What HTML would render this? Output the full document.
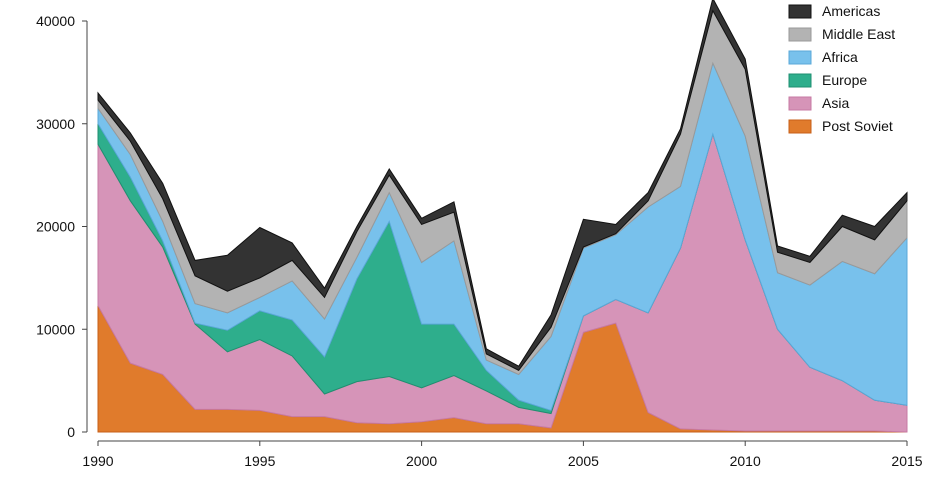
<!DOCTYPE html>
<html><head><meta charset="utf-8"><style>
body{margin:0;background:#fff;}
svg{font-family:"Liberation Sans",sans-serif;}
</style></head><body>
<svg id="chart" width="939" height="495"></svg>
<script>
const years=[1990,1991,1992,1993,1994,1995,1996,1997,1998,1999,2000,2001,2002,2003,2004,2005,2006,2007,2008,2009,2010,2011,2012,2013,2014,2015];
const postSoviet=[12300,6700,5600,2200,2200,2100,1500,1500,900,800,1000,1400,800,800,400,9700,10600,1900,300,200,100,100,100,100,100,0];
const asia=[15700,15800,12400,8300,5600,6900,5900,2200,4000,4600,3300,4100,3200,1600,1400,1600,2300,9700,17600,28800,18600,9900,6200,4900,3000,2600];
const europe=[2000,2300,600,100,2100,2800,3500,3600,10000,15100,6200,5000,2000,700,300,0,0,0,0,0,0,0,0,0,0,0];
const africa=[1500,2200,1900,1900,1700,1300,3800,3700,2100,2800,6000,8100,1000,2500,7200,6600,6300,10300,6000,6900,10100,5500,8000,11600,12300,16300];
const middleEast=[800,1300,2200,2700,2100,1900,2000,2100,2500,1700,3700,2800,600,400,900,100,100,600,5100,5100,6500,2000,2200,3400,3300,3600];
const americas=[700,800,1500,1500,3500,4900,1700,900,500,600,600,1000,500,400,1200,2700,900,800,500,1200,1000,600,600,1100,1300,800];
const yTicks=[0,10000,20000,30000,40000];
const xTicks=[1990,1995,2000,2005,2010,2015];

const NS="http://www.w3.org/2000/svg";
const svg=document.getElementById('chart');
const X=y=>98+(y-1990)*(907-98)/25;
const Y=v=>432-v*(432-21)/40000;
function mk(t,a,p){const e=document.createElementNS(NS,t);for(const k in a)e.setAttribute(k,a[k]);(p||svg).appendChild(e);return e;}

const series=[
 {name:'Post Soviet',vals:postSoviet,fill:'#e07b2c',stroke:'#c75f17',key:'post-soviet'},
 {name:'Asia',vals:asia,fill:'#d694b8',stroke:'#c77aa3',key:'asia'},
 {name:'Europe',vals:europe,fill:'#2eae8c',stroke:'#1f8f70',key:'europe'},
 {name:'Africa',vals:africa,fill:'#78c1ec',stroke:'#5aa8d8',key:'africa'},
 {name:'Middle East',vals:middleEast,fill:'#b3b3b3',stroke:'#999',key:'middle-east'},
 {name:'Americas',vals:americas,fill:'#333333',stroke:'#111',key:'americas'}
];
let base=years.map(()=>0);
series.forEach(s=>{
  const top=base.map((b,i)=>b+s.vals[i]);
  let d='M'+years.map((y,i)=>X(y)+','+Y(top[i])).join('L');
  for(let i=years.length-1;i>=0;i--)d+='L'+X(years[i])+','+Y(base[i]);
  d+='Z';
  const p=mk('path',{d:d,fill:s.fill,stroke:s.stroke,'stroke-width':1});
  
  
  base=top;
});

// axes
const ya=mk('line',{x1:87,y1:21,x2:87,y2:432,stroke:'#444','stroke-width':1});


yTicks.forEach(v=>{
  mk('line',{x1:82,x2:87,y1:Y(v),y2:Y(v),stroke:'#444'});
  const t=mk('text',{x:75,y:Y(v)+5,'text-anchor':'end','font-size':14,fill:'#111'});
  t.textContent=v;
  
  
});
const xa=mk('line',{x1:98,y1:441,x2:907,y2:441,stroke:'#444','stroke-width':1});


xTicks.forEach(v=>{
  mk('line',{x1:X(v),x2:X(v),y1:441,y2:446,stroke:'#444'});
  const t=mk('text',{x:X(v),y:466,'text-anchor':'middle','font-size':14,fill:'#111'});
  t.textContent=v;
  
  
});

// legend
const lg=mk('g',{});


series.slice().reverse().forEach((s,i)=>{
  const y=11+i*23;
  const g=mk('g',{},lg);
  
  
  mk('rect',{x:789,y:y-6,width:22,height:13,fill:s.fill,stroke:s.stroke},g);
  const t=mk('text',{x:822,y:y+5,'font-size':14,fill:'#111'},g);
  t.textContent=s.name;
});
</script>
</body></html>
